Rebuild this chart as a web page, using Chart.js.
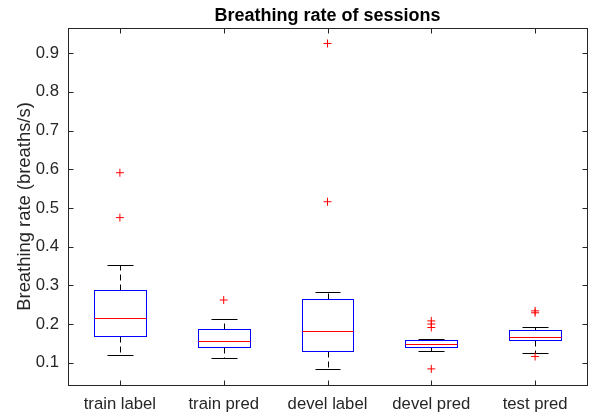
<!DOCTYPE html>
<html>
<head>
<meta charset="utf-8">
<script src="https://cdn.jsdelivr.net/npm/chart.js@4"></script>
<style>
  html, body { margin: 0; padding: 0; background: #fff; }
  #wrap { width: 592px; height: 418px; position: relative; }
</style>
</head>
<body>
<div id="wrap"><canvas id="box-chart"></canvas></div>
<script>
// values
const categories = ['train label', 'train pred', 'devel label', 'devel pred', 'test pred'];
const whiskerLow = [0.121, 0.113, 0.084, 0.129, 0.125];
const q1 = [0.169, 0.141, 0.129, 0.141, 0.159];
const median = [0.216, 0.157, 0.182, 0.149, 0.166];
const q3 = [0.287, 0.187, 0.265, 0.159, 0.185];
const whiskerHigh = [0.353, 0.212, 0.283, 0.160, 0.191];
const outliers = [
    [0.591, 0.475],
    [0.262],
    [0.925, 0.516],
    [0.208, 0.200, 0.191, 0.084],
    [0.234, 0.229, 0.116]
];
const yTicks = [0.1, 0.2, 0.3, 0.4, 0.5, 0.6, 0.7, 0.8, 0.9];

const axisColor = '#262626';
const fontFamily = 'Liberation Sans, Arial, sans-serif';

const outlierPoints = [];
outliers.forEach((list, i) => {
    list.forEach((v) => outlierPoints.push({ x: i + 1, y: v }));
});

// boxes, whiskers, medians and inward ticks, drawn from the scales
const boxPlugin = {
    id: 'boxes',
    beforeDatasetsDraw(chart) {
        const { ctx } = chart;
        const xs = chart.scales.x;
        const ys = chart.scales.y;
        const px = (v) => Math.round(xs.getPixelForValue(v)) + 0.5;
        const py = (v) => Math.round(ys.getPixelForValue(v)) + 0.5;
        ctx.save();
        ctx.lineWidth = 1;
        categories.forEach((c, i) => {
            const x = i + 1;
            // dashed whiskers
            ctx.strokeStyle = '#000';
            ctx.setLineDash([6, 4]);
            ctx.beginPath();
            ctx.moveTo(px(x), py(q3[i]));
            ctx.lineTo(px(x), py(whiskerHigh[i]));
            ctx.moveTo(px(x), py(q1[i]));
            ctx.lineTo(px(x), py(whiskerLow[i]));
            ctx.stroke();
            ctx.setLineDash([]);
            // caps
            ctx.beginPath();
            ctx.moveTo(px(x - 0.125), py(whiskerHigh[i]));
            ctx.lineTo(px(x + 0.125), py(whiskerHigh[i]));
            ctx.moveTo(px(x - 0.125), py(whiskerLow[i]));
            ctx.lineTo(px(x + 0.125), py(whiskerLow[i]));
            ctx.stroke();
            // box
            ctx.strokeStyle = '#0000ff';
            ctx.strokeRect(px(x - 0.25), py(q3[i]), px(x + 0.25) - px(x - 0.25), py(q1[i]) - py(q3[i]));
            // median
            ctx.strokeStyle = '#ff0000';
            ctx.beginPath();
            ctx.moveTo(px(x - 0.25), py(median[i]));
            ctx.lineTo(px(x + 0.25), py(median[i]));
            ctx.stroke();
        });
        ctx.restore();
    },
    afterDraw(chart) {
        const { ctx, chartArea: a } = chart;
        const xs = chart.scales.x;
        const ys = chart.scales.y;
        const L = Math.round(a.left) + 0.5, R = Math.round(a.right) + 0.5;
        const T = Math.round(a.top) + 0.5, B = Math.round(a.bottom) + 0.5;
        ctx.save();
        ctx.strokeStyle = axisColor;
        ctx.lineWidth = 1;
        ctx.strokeRect(L, T, R - L, B - T);
        ctx.beginPath();
        yTicks.forEach((v) => {
            const y = Math.round(ys.getPixelForValue(v)) + 0.5;
            ctx.moveTo(L, y); ctx.lineTo(L + 5, y);
            ctx.moveTo(R, y); ctx.lineTo(R - 5, y);
        });
        categories.forEach((c, i) => {
            const x = Math.round(xs.getPixelForValue(i + 1)) + 0.5;
            ctx.moveTo(x, B); ctx.lineTo(x, B - 5);
            ctx.moveTo(x, T); ctx.lineTo(x, T + 5);
        });
        ctx.stroke();
        ctx.restore();
    }
};

new Chart(document.getElementById('box-chart'), {
    type: 'scatter',
    data: {
        datasets: [{
            label: 'outliers',
            data: outlierPoints,
            xAxisID: 'x',
            yAxisID: 'y',
            pointStyle: 'cross',
            radius: 4,
            borderColor: '#ff0000',
            pointBorderColor: '#ff0000',
            backgroundColor: '#ff0000',
            borderWidth: 1
        }]
    },
    options: {
        responsive: true,
        maintainAspectRatio: false,
        animation: false,
        layout: { padding: { left: 14, right: 5, top: 0, bottom: 0 } },
        plugins: {
            legend: { display: false },
            tooltip: { enabled: false },
            title: { display: false }
        },
        scales: {
            x: {
                type: 'linear',
                min: 0.5,
                max: 5.5,
                afterBuildTicks: (s) => { s.ticks = categories.map((c, i) => ({ value: i + 1 })); },
                afterFit: (s) => { s.height = 33; },
                ticks: {
                    callback: (v) => categories[Math.round(v) - 1],
                    color: axisColor,
                    padding: 1,
                    maxRotation: 0,
                    font: { family: fontFamily, size: 16.7 }
                },
                grid: { display: false },
                border: { display: false }
            },
            // top axis only carries the title, so it centres over the plot box
            xTop: {
                type: 'linear',
                position: 'top',
                min: 0.5,
                max: 5.5,
                afterFit: (s) => { s.height = 28; },
                ticks: { display: false },
                grid: { display: false },
                border: { display: false },
                title: {
                    display: true,
                    text: 'Breathing rate of sessions',
                    color: '#000',
                    font: { family: fontFamily, size: 18, weight: 'bold', lineHeight: 1.2 },
                    padding: { top: 5, bottom: 1 }
                }
            },
            y: {
                min: 0.0424,
                max: 0.965,
                afterBuildTicks: (s) => { s.ticks = yTicks.map((v) => ({ value: v })); },
                afterFit: (s) => { s.width = 54; },
                ticks: {
                    callback: (v) => v.toFixed(1),
                    color: axisColor,
                    padding: 1,
                    font: { family: fontFamily, size: 16.7 }
                },
                title: {
                    display: true,
                    text: 'Breathing rate (breaths/s)',
                    color: axisColor,
                    font: { family: fontFamily, size: 18.4 },
                    padding: { top: 0, bottom: 3 }
                },
                grid: { display: false },
                border: { display: false }
            }
        }
    },
    plugins: [boxPlugin]
});
</script>
</body>
</html>
